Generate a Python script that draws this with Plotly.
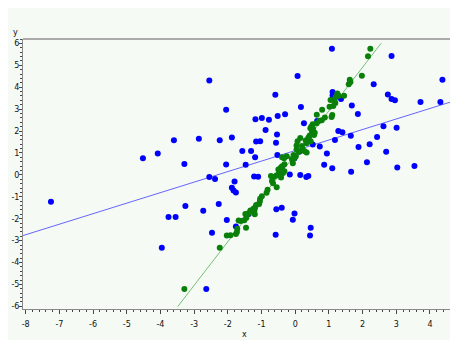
import plotly.graph_objects as go

# ---- data ----
blue_x = [-7.25, -4.52, -4.08, -3.96, -3.76, -3.55, -3.60, -3.29, -3.26, -2.86,
          -2.73, -2.64, -2.55, -2.55, -2.47, -2.38, -2.27, -2.24, -2.05, -2.05,
          -2.03, -1.88, -1.88, -1.83, -1.76, -1.80, -1.76, -1.57, -1.47, -1.38,
          -1.31, -1.19, -1.18, -1.16, -1.04, -1.22, -1.10, -0.99, -0.78, -0.88,
          -0.59, -0.52, -0.30, -0.54, -0.57, -0.53, -0.40, -0.56, -0.40, -0.02,
          -0.07, -0.58, -0.16, 0.15, 0.33, 0.39, 0.07, 0.17, 0.26, 0.65,
          0.12, 0.40, 0.52, 0.73, 0.46, 0.44, 0.86, 0.94, 1.10, 1.09,
          1.11, 1.11, 1.36, 1.18, 1.28, 1.40, 1.65, 1.66, 1.68, 1.86,
          1.88, 2.13, 2.21, 2.33, 2.43, 2.62, 2.70, 2.75, 2.86, 2.86,
          2.96, 3.01, 3.03, 3.54, 3.72, 4.31, 4.37, -0.02]
blue_y = [-1.23, 0.76, 0.98, -3.33, -1.92, -1.92, 1.58, 0.50, -1.42, 1.65,
          -1.64, -5.21, -0.10, 4.31, -2.64, -0.19, -1.33, 1.58, 2.97, 0.47,
          -2.06, 1.70, -0.59, -0.71, -0.80, -0.30, -2.36, 1.09, 0.46, -1.79,
          1.09, 0.81, 2.54, 1.52, 1.53, -0.07, -0.09, 2.60, 2.51, 2.05,
          3.66, 2.69, 2.77, 1.84, 1.47, 0.91, 0.34, -1.57, -1.50, -1.76,
          -2.05, -2.73, 0.02, 0.00, -0.10, -0.05, 4.51, 3.10, 2.36, 2.46,
          1.05, 1.61, 1.39, 1.30, -2.41, -2.77, 0.46, 0.97, 0.30, 5.75,
          3.78, 3.62, 3.46, 1.59, 2.00, 1.95, 1.79, 0.14, 3.16, 2.78,
          1.27, 0.58, 1.40, 4.14, 1.73, 2.22, 1.05, 3.67, 5.42, 3.46,
          3.40, 2.15, 0.34, 0.40, 3.33, 3.32, 4.34, 0.76]

green_x = [2.23, 2.16, 1.98, 1.62, 1.64, 1.59, 1.45, 1.25, 1.29, 1.20,
           1.05, 1.16, 1.19, 1.13, 1.02, 0.80, 0.64, 1.10, 1.08, 0.88,
           0.79, 0.72, 0.64, 0.52, 0.48, 0.45, 0.53, 0.50, 0.58, 0.56,
           0.43, 0.39, 0.31, 0.46, 0.15, 0.07, 0.04, 0.34, 0.20, 0.22,
           0.28, 0.34, 0.04, 0.10, -0.05, 0.02, -0.10, -0.04, -0.07, -0.25,
           -0.33, -0.39, -0.32, -0.39, -0.43, -0.50, -0.32, -0.36, -0.42, -0.49,
           -0.56, -0.64, -0.72, -0.42, -0.69, -0.66, -0.55, -0.82, -0.85, -0.99,
           -1.04, -1.05, -1.07, -1.16, -1.19, -1.24, -1.21, -1.20, -1.33, -1.39,
           -1.48, -1.45, -1.51, -1.61, -1.68, -1.46, -1.72, -1.73, -1.76, -1.92,
           -2.03, -2.24, -3.29]
green_y = [5.76, 5.41, 4.52, 4.34, 4.24, 4.13, 3.61, 3.71, 3.61, 3.54,
           3.42, 3.39, 3.28, 3.14, 3.11, 2.97, 2.74, 2.73, 2.64, 2.62,
           2.49, 2.47, 2.36, 2.31, 2.21, 2.13, 2.10, 1.97, 1.92, 1.82,
           1.80, 1.69, 1.57, 1.53, 1.68, 1.53, 1.34, 1.44, 1.32, 1.17,
           1.08, 1.02, 1.16, 1.05, 0.91, 0.85, 0.73, 0.74, 0.53, 0.85,
           0.76, 0.80, 0.48, 0.39, 0.32, 0.25, 0.17, 0.08, 0.02, 0.05,
           -0.03, -0.10, -0.05, -0.12, -0.28, -0.38, -0.57, -0.68, -0.82, -0.98,
           -1.09, -1.22, -1.33, -1.37, -1.49, -1.54, -1.62, -1.80, -1.62, -1.75,
           -1.78, -1.96, -2.07, -2.10, -2.08, -2.41, -2.46, -2.61, -2.70, -2.75,
           -2.77, -3.33, -5.21]

# fitted lines: (intercept, slope, x-from, x-to)
blue_line = (1.11, 0.48, -8.08, 5.07)
green_line = (0.93, 1.99, -3.49, 2.55)

x_range = [-8.08, 5.07]
y_range = [-6.12, 6.20]
x_ticks = list(range(-8, 6))
y_ticks = list(range(-6, 7))
x_tick_labels = [str(v) for v in x_ticks]
y_tick_labels = [str(v) for v in y_ticks]

fig = go.Figure()

def line_pts(p):
    b, m, x0, x1 = p
    return [x0, x1], [b + m * x0, b + m * x1]

lx, ly = line_pts(blue_line)
fig.add_trace(go.Scatter(x=lx, y=ly, mode="lines",
                         line=dict(color="#6666ff", width=1), hoverinfo="skip"))
lx, ly = line_pts(green_line)
fig.add_trace(go.Scatter(x=lx, y=ly, mode="lines",
                         line=dict(color="#77c077", width=1), hoverinfo="skip"))

fig.add_trace(go.Scatter(x=blue_x, y=blue_y, mode="markers",
                         marker=dict(color="#0000ff", size=6, line=dict(width=0))))
fig.add_trace(go.Scatter(x=green_x, y=green_y, mode="markers",
                         marker=dict(color="#0a800a", size=6, line=dict(width=0))))

tickfont = dict(family="DejaVu Sans", size=8, color="#111111")

fig.update_layout(
    width=458, height=340,
    margin=dict(l=15, r=0, t=31, b=39, autoexpand=False),
    paper_bgcolor="#f5faf5",
    plot_bgcolor="#f5faf5",
    showlegend=False,
    xaxis=dict(range=x_range, tickvals=x_ticks, ticktext=x_tick_labels,
               ticks="outside", ticklen=4,
               tickcolor="#444444", showgrid=False, zeroline=False, automargin=False,
               showline=True, linecolor="#888888", linewidth=1,
               tickfont=tickfont, ticklabelstandoff=3,
               minor=dict(dtick=0.2, ticks="outside", ticklen=2, tickcolor="#444444",
                          showgrid=False)),
    yaxis=dict(range=y_range, tickvals=y_ticks, ticktext=y_tick_labels,
               ticks="outside", ticklen=3,
               tickcolor="#444444", showgrid=False, zeroline=False, automargin=False,
               showline=True, linecolor="#888888", linewidth=1,
               tickfont=tickfont, ticklabelstandoff=-2,
               minor=dict(dtick=0.2, ticks="outside", ticklen=2, tickcolor="#444444",
                          showgrid=False)),
    shapes=[
        dict(type="line", xref="paper", yref="paper", x0=0, x1=1, y0=1, y1=1,
             line=dict(color="#aaaaaa", width=2)),
    ],
    annotations=[
        dict(text="y", xref="paper", yref="paper", x=-0.018, y=1.0, xanchor="center",
             yanchor="bottom", showarrow=False, font=tickfont),
        dict(text="x", xref="paper", yref="paper", x=0.5, y=-0.072, xanchor="center",
             yanchor="top", showarrow=False, font=tickfont),
    ],
)

fig.write_html("out.html")
